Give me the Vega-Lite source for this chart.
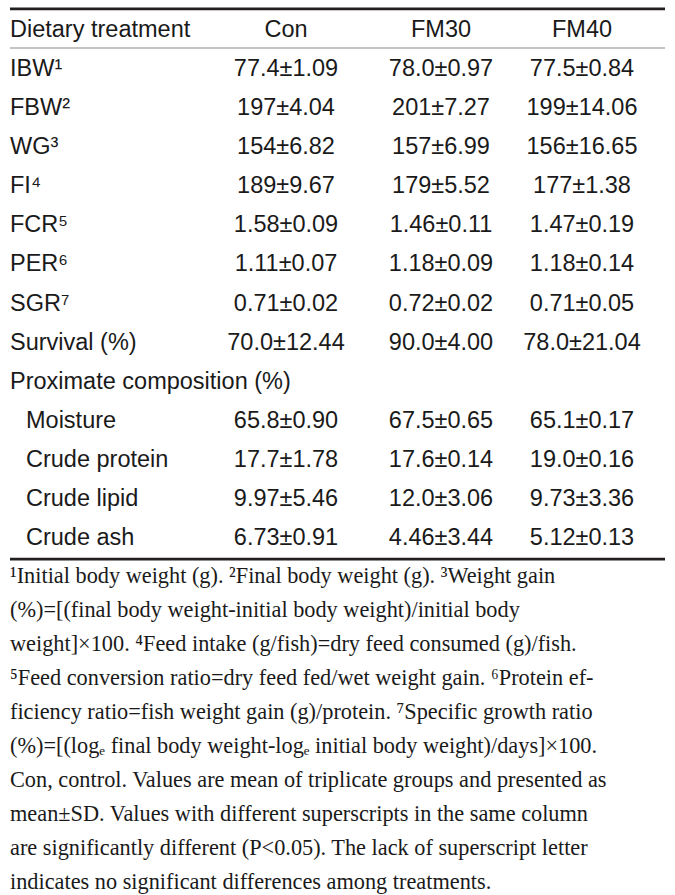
{
  "$schema": "https://vega.github.io/schema/vega-lite/v6.json",
  "width": 675,
  "height": 895,
  "autosize": {"type": "fit", "contains": "padding"},
  "padding": 0,
  "background": "white",
  "config": {"view": {"stroke": null}},
  "datasets": {
    "rules": [
      {"row": -0.54, "from": 0, "to": 4, "kind": "thick"},
      {"row": 0.46, "from": 0, "to": 4, "kind": "thin"},
      {"row": 13.54, "from": 0, "to": 4, "kind": "thick"}
    ],
    "labels": [
      {"row": 0, "col": 0, "label": "Dietary treatment", "sub": 0},
      {"row": 1, "col": 0, "label": "IBW¹", "sub": 0},
      {"row": 2, "col": 0, "label": "FBW²", "sub": 0},
      {"row": 3, "col": 0, "label": "WG³", "sub": 0},
      {"row": 4, "col": 0, "label": "FI⁴", "sub": 0},
      {"row": 5, "col": 0, "label": "FCR⁵", "sub": 0},
      {"row": 6, "col": 0, "label": "PER⁶", "sub": 0},
      {"row": 7, "col": 0, "label": "SGR⁷", "sub": 0},
      {"row": 8, "col": 0, "label": "Survival (%)", "sub": 0},
      {"row": 9, "col": 0, "label": "Proximate composition (%)", "sub": 0},
      {"row": 10, "col": 0, "label": "Moisture", "sub": 1},
      {"row": 11, "col": 0, "label": "Crude protein", "sub": 1},
      {"row": 12, "col": 0, "label": "Crude lipid", "sub": 1},
      {"row": 13, "col": 0, "label": "Crude ash", "sub": 1}
    ],
    "cells": [
      {"row": 0, "col": 1, "text": "Con"},
      {"row": 0, "col": 2, "text": "FM30"},
      {"row": 0, "col": 3, "text": "FM40"},
      {"row": 1, "col": 1, "text": "77.4±1.09"},
      {"row": 1, "col": 2, "text": "78.0±0.97"},
      {"row": 1, "col": 3, "text": "77.5±0.84"},
      {"row": 2, "col": 1, "text": "197±4.04"},
      {"row": 2, "col": 2, "text": "201±7.27"},
      {"row": 2, "col": 3, "text": "199±14.06"},
      {"row": 3, "col": 1, "text": "154±6.82"},
      {"row": 3, "col": 2, "text": "157±6.99"},
      {"row": 3, "col": 3, "text": "156±16.65"},
      {"row": 4, "col": 1, "text": "189±9.67"},
      {"row": 4, "col": 2, "text": "179±5.52"},
      {"row": 4, "col": 3, "text": "177±1.38"},
      {"row": 5, "col": 1, "text": "1.58±0.09"},
      {"row": 5, "col": 2, "text": "1.46±0.11"},
      {"row": 5, "col": 3, "text": "1.47±0.19"},
      {"row": 6, "col": 1, "text": "1.11±0.07"},
      {"row": 6, "col": 2, "text": "1.18±0.09"},
      {"row": 6, "col": 3, "text": "1.18±0.14"},
      {"row": 7, "col": 1, "text": "0.71±0.02"},
      {"row": 7, "col": 2, "text": "0.72±0.02"},
      {"row": 7, "col": 3, "text": "0.71±0.05"},
      {"row": 8, "col": 1, "text": "70.0±12.44"},
      {"row": 8, "col": 2, "text": "90.0±4.00"},
      {"row": 8, "col": 3, "text": "78.0±21.04"},
      {"row": 10, "col": 1, "text": "65.8±0.90"},
      {"row": 10, "col": 2, "text": "67.5±0.65"},
      {"row": 10, "col": 3, "text": "65.1±0.17"},
      {"row": 11, "col": 1, "text": "17.7±1.78"},
      {"row": 11, "col": 2, "text": "17.6±0.14"},
      {"row": 11, "col": 3, "text": "19.0±0.16"},
      {"row": 12, "col": 1, "text": "9.97±5.46"},
      {"row": 12, "col": 2, "text": "12.0±3.06"},
      {"row": 12, "col": 3, "text": "9.73±3.36"},
      {"row": 13, "col": 1, "text": "6.73±0.91"},
      {"row": 13, "col": 2, "text": "4.46±3.44"},
      {"row": 13, "col": 3, "text": "5.12±0.13"}
    ],
    "notes": [
      {"line": 0, "col": 0, "text": "¹Initial body weight (g). ²Final body weight (g). ³Weight gain"},
      {"line": 1, "col": 0, "text": "(%)=[(final body weight-initial body weight)/initial body"},
      {"line": 2, "col": 0, "text": "weight]×100. ⁴Feed intake (g/fish)=dry feed consumed (g)/fish."},
      {"line": 3, "col": 0, "text": "⁵Feed conversion ratio=dry feed fed/wet weight gain. ⁶Protein ef-"},
      {"line": 4, "col": 0, "text": "ficiency ratio=fish weight gain (g)/protein. ⁷Specific growth ratio"},
      {"line": 5, "col": 0, "text": "(%)=[(logₑ final body weight-logₑ initial body weight)/days]×100."},
      {"line": 6, "col": 0, "text": "Con, control. Values are mean of triplicate groups and presented as"},
      {"line": 7, "col": 0, "text": "mean±SD. Values with different superscripts in the same column"},
      {"line": 8, "col": 0, "text": "are significantly different (P<0.05). The lack of superscript letter"},
      {"line": 9, "col": 0, "text": "indicates no significant differences among treatments."}
    ]
  },
  "layer": [
    {
      "data": {"name": "rules"},
      "mark": {"type": "rule"},
      "encoding": {
        "x": {"field": "from", "type": "quantitative", "axis": null, "scale": {"domain": [0, 1, 2, 3, 4], "range": [10, 286, 441, 582, 665]}},
        "x2": {"field": "to"},
        "y": {"field": "row", "type": "quantitative", "axis": null, "scale": {"domain": [0, 13], "range": [30, 538]}},
        "strokeWidth": {"field": "kind", "type": "nominal", "legend": null, "scale": {"domain": ["thick", "thin"], "range": [2.6, 1.2]}},
        "color": {"field": "kind", "type": "nominal", "legend": null, "scale": {"domain": ["thick", "thin"], "range": ["#231f20", "#8a8a8a"]}}
      }
    },
    {
      "data": {"name": "labels"},
      "transform": [{"filter": "datum.sub == 0"}],
      "mark": {"type": "text", "align": "left", "baseline": "middle", "font": "Liberation Sans", "fontSize": 23.5, "color": "#1a1a1a"},
      "encoding": {
        "x": {"field": "col", "type": "quantitative", "axis": null, "scale": {"domain": [0, 1, 2, 3, 4], "range": [10, 286, 441, 582, 665]}},
        "y": {"field": "row", "type": "quantitative", "axis": null, "scale": {"domain": [0, 13], "range": [30, 538]}},
        "text": {"field": "label"}
      }
    },
    {
      "data": {"name": "labels"},
      "transform": [{"filter": "datum.sub == 1"}],
      "mark": {"type": "text", "align": "left", "baseline": "middle", "font": "Liberation Sans", "fontSize": 23.5, "color": "#1a1a1a", "dx": 16},
      "encoding": {
        "x": {"field": "col", "type": "quantitative", "axis": null, "scale": {"domain": [0, 1, 2, 3, 4], "range": [10, 286, 441, 582, 665]}},
        "y": {"field": "row", "type": "quantitative", "axis": null, "scale": {"domain": [0, 13], "range": [30, 538]}},
        "text": {"field": "label"}
      }
    },
    {
      "data": {"name": "cells"},
      "mark": {"type": "text", "align": "center", "baseline": "middle", "font": "Liberation Sans", "fontSize": 23.5, "color": "#1a1a1a"},
      "encoding": {
        "x": {"field": "col", "type": "quantitative", "axis": null, "scale": {"domain": [0, 1, 2, 3, 4], "range": [10, 286, 441, 582, 665]}},
        "y": {"field": "row", "type": "quantitative", "axis": null, "scale": {"domain": [0, 13], "range": [30, 538]}},
        "text": {"field": "text"}
      }
    },
    {
      "data": {"name": "notes"},
      "mark": {"type": "text", "align": "left", "baseline": "middle", "font": "Liberation Serif", "fontSize": 22.3, "color": "#1a1a1a"},
      "encoding": {
        "x": {"field": "col", "type": "quantitative", "axis": null, "scale": {"domain": [0, 1, 2, 3, 4], "range": [10, 286, 441, 582, 665]}},
        "y": {"field": "line", "type": "quantitative", "axis": null, "scale": {"domain": [0, 9], "range": [576, 882]}},
        "text": {"field": "text"}
      }
    }
  ],
  "resolve": {"scale": {"y": "independent", "strokeWidth": "independent", "color": "independent"}}
}
